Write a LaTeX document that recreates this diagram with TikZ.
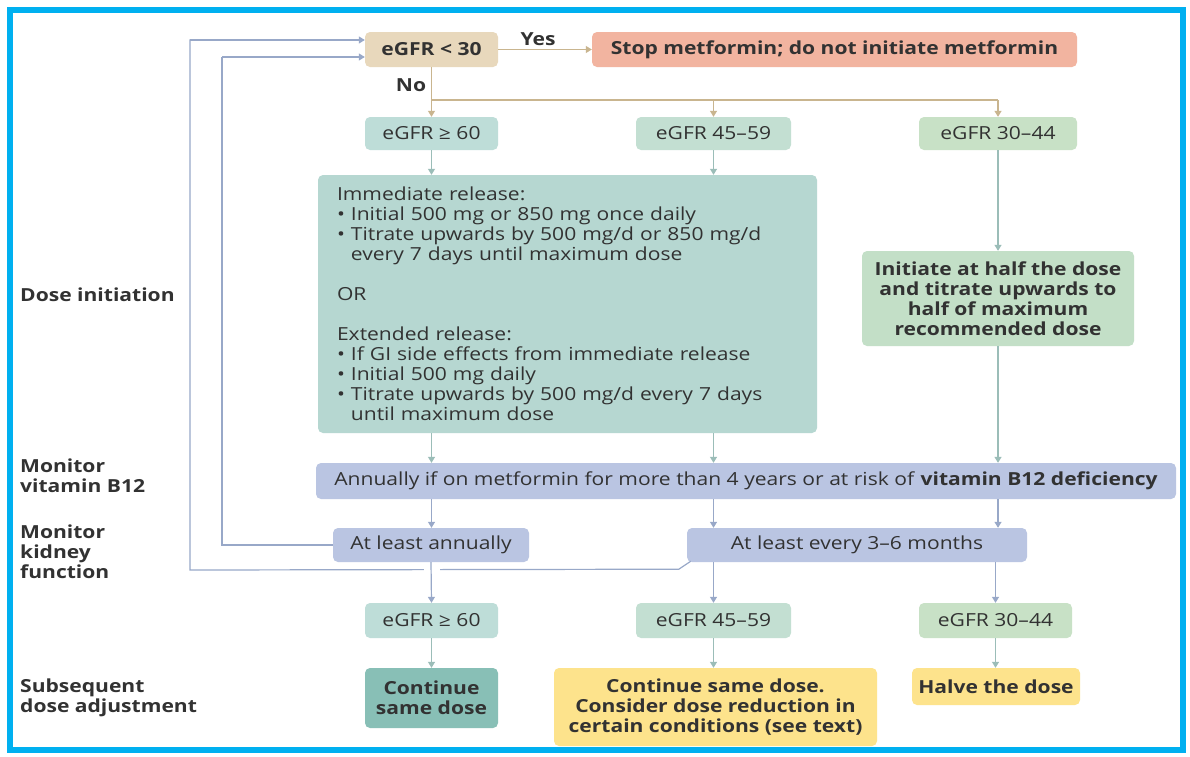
\documentclass[tikz,border=0pt]{standalone}
\usepackage{fontspec}
\setmainfont{Open Sans}[FakeStretch=1.17]
\usetikzlibrary{arrows.meta}
\definecolor{frame}{RGB}{0,176,240}
\definecolor{txt}{RGB}{50,50,50}
\definecolor{tanbox}{RGB}{232,216,188}
\definecolor{salmon}{RGB}{242,180,160}
\definecolor{tealA}{RGB}{190,221,216}
\definecolor{tealB}{RGB}{195,223,210}
\definecolor{greenC}{RGB}{200,225,198}
\definecolor{bigteal}{RGB}{182,215,209}
\definecolor{initgreen}{RGB}{195,223,199}
\definecolor{lav}{RGB}{186,197,226}
\definecolor{darkteal}{RGB}{136,191,182}
\definecolor{yel}{RGB}{253,227,140}
\definecolor{lntan}{RGB}{201,181,143}
\definecolor{lnteal}{RGB}{155,189,184}
\definecolor{lnblue}{RGB}{152,168,200}
\newcommand{\fs}{\fontsize{18}{20}\selectfont}
\tikzset{
  box/.style={rounded corners=5pt, inner sep=0pt, align=center, text=txt, font=\fs},
  bbox/.style={box, font=\fs\bfseries},
  lbl/.style={anchor=west, align=left, text=txt, font=\fs\bfseries, inner sep=0pt},
  arr/.style={line width=1.2pt, -{Triangle[width=7pt,length=6pt]}},
  ln/.style={line width=1.2pt},
}
\begin{document}
\begin{tikzpicture}[x=1pt,y=-1pt]
\useasboundingbox (0,0) rectangle (1190,756);
\fill[white] (0,0) rectangle (1190,756);
\draw[frame, line width=5.5pt] (10,10) rectangle (1183,750);

% top row
\node[bbox, fill=tanbox, minimum width=133pt, minimum height=35pt] (lt30) at (431.5,49.5) {eGFR < 30};
\node[bbox, fill=salmon, minimum width=485pt, minimum height=35pt] (stop) at (834.5,49.5) {Stop metformin; do not initiate metformin};

\node[box, fill=tealA, minimum width=133pt, minimum height=33pt] (g60a) at (431.5,133.5) {eGFR ≥ 60};
\node[box, fill=tealB, minimum width=155pt, minimum height=33pt] (g45a) at (713.5,133.5) {eGFR 45–59};
\node[box, fill=greenC, minimum width=158pt, minimum height=33pt] (g30a) at (998,133.5) {eGFR 30–44};

\node[box, fill=bigteal, minimum width=499pt, minimum height=258pt, align=left, text width=461pt] (big) at (567.5,304) {%
Immediate release:\\
\textbullet\ Initial 500 mg or 850 mg once daily\\
\textbullet\ Titrate upwards by 500 mg/d or 850 mg/d\\
\hphantom{\textbullet\ }every 7 days until maximum dose\\
~\\
OR\\
~\\
Extended release:\\
\textbullet\ If GI side effects from immediate release\\
\textbullet\ Initial 500 mg daily\\
\textbullet\ Titrate upwards by 500 mg/d every 7 days\\
\hphantom{\textbullet\ }until maximum dose};

\node[bbox, fill=initgreen, minimum width=272pt, minimum height=95pt] (init) at (998,298.5) {Initiate at half the dose\\and titrate upwards to\\half of maximum\\recommended dose};

\node[box, fill=lav, minimum width=860pt, minimum height=36pt] (vit) at (746,481) {Annually if on metformin for more than 4 years or at risk of \textbf{vitamin B12 deficiency}};

\node[box, fill=lav, minimum width=196pt, minimum height=34pt] (ann) at (431,545) {At least annually};
\node[box, fill=lav, minimum width=340pt, minimum height=34pt] (m36) at (857,545) {At least every 3–6 months};

\node[box, fill=tealA, minimum width=133pt, minimum height=35pt] (g60b) at (431.5,620.5) {eGFR ≥ 60};
\node[box, fill=tealB, minimum width=155pt, minimum height=35pt] (g45b) at (713.5,620.5) {eGFR 45–59};
\node[box, fill=greenC, minimum width=153pt, minimum height=35pt] (g30b) at (995.5,620.5) {eGFR 30–44};

\node[bbox, fill=darkteal, minimum width=133pt, minimum height=60pt] (cont) at (431.5,698) {Continue\\same dose};
\node[bbox, fill=yel, minimum width=323pt, minimum height=78pt] (cons) at (715.5,707) {Continue same dose.\\Consider dose reduction in\\certain conditions (see text)};
\node[bbox, fill=yel, minimum width=168pt, minimum height=37pt] (halve) at (996,686.5) {Halve the dose};

% left labels
\node[lbl] (l1) at (20,295) {Dose initiation};
\node[lbl] (l2) at (20,476) {Monitor\\vitamin B12};
\node[lbl] (l3) at (20,552) {Monitor\\kidney\\function};
\node[lbl] (l4) at (20,698) {Subsequent\\dose adjustment};

% top connectors
\draw[arr, lntan] (lt30.east) -- (stop.west);
\node[text=txt, font=\fs\bfseries, inner sep=0pt] (yes) at (538,39) {Yes};
\draw[arr, lntan] (lt30.south) -- (g60a.north);
\node[text=txt, font=\fs\bfseries, inner sep=0pt] (no) at (411,85) {No};
\coordinate (split) at (431.5,100);
\draw[ln, lntan] (split) -- (g30a.north |- split);
\draw[arr, lntan] (g45a.north |- split) -- (g45a.north);
\draw[arr, lntan] (g30a.north |- split) -- (g30a.north);

% to initiation
\draw[arr, lnteal] (g60a.south) -- (g60a.south |- big.north);
\draw[arr, lnteal] (g45a.south) -- (g45a.south |- big.north);
\draw[arr, lnteal] (g30a.south) -- (init.north);
\draw[arr, lnteal] (g60a.south |- big.south) -- (g60a.south |- vit.north);
\draw[arr, lnteal] (g45a.south |- big.south) -- (g45a.south |- vit.north);
\draw[arr, lnteal] (init.south) -- (init.south |- vit.north);

% monitoring
\draw[arr, lnblue] (g60a.south |- vit.south) -- (g60a.south |- ann.north);
\draw[arr, lnblue] (g45a.south |- vit.south) -- (g45a.south |- m36.north);
\draw[arr, lnblue] (g30a.south |- vit.south) -- (g30a.south |- m36.north);

% feedback loops
\coordinate (fbo) at (190,570);
\coordinate (fbi) at (222,545);
\draw[ln, lnblue] (m36.south west) ++(4,-1) -- ++(-12,8) -- (fbo) -- (fbo |- {(0,40)}) -- ++(40,0);
\draw[arr, lnblue] (fbo |- {(0,40)}) -- (lt30.west |- {(0,40)});
\draw[ln, lnblue] (ann.west) -- (fbi) -- (fbi |- {(0,57)});
\draw[arr, lnblue] (fbi |- {(0,57)}) -- (lt30.west |- {(0,57)});
\fill[white] (424,566) rectangle (440,574);

\draw[arr, lnblue] (ann.south) -- (g60b.north);
\draw[arr, lnblue] (g45b.north |- m36.south) -- (g45b.north);
\draw[arr, lnblue] (g30b.north |- m36.south) -- (g30b.north);

% to adjustments
\draw[arr, lnteal] (g60b.south) -- (cont.north);
\draw[arr, lnteal] (g45b.south) -- (g45b.south |- cons.north);
\draw[arr, lnteal] (g30b.south) -- (g30b.south |- halve.north);
\end{tikzpicture}
\end{document}
